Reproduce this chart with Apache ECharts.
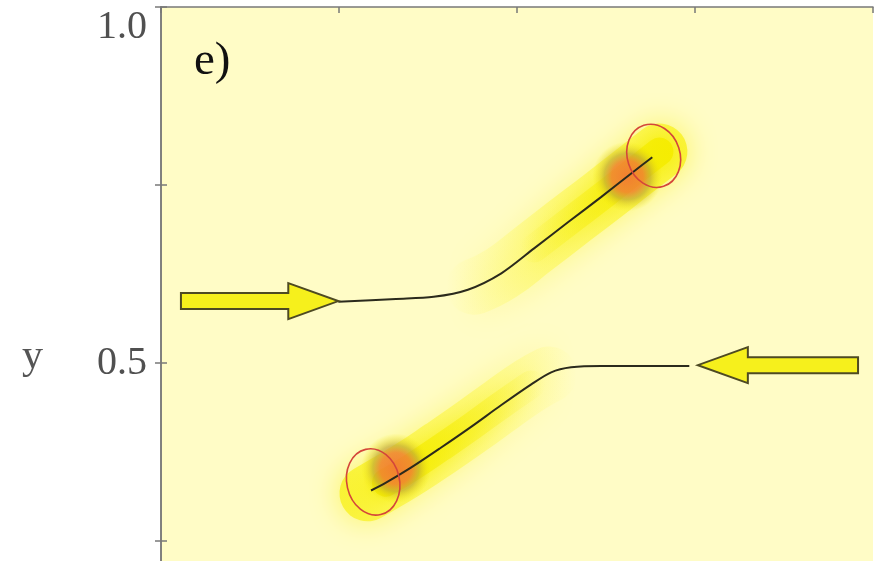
<!DOCTYPE html>
<html>
<head>
<meta charset="utf-8">
<script src="https://cdn.jsdelivr.net/npm/echarts@6/dist/echarts.min.js"></script>
<style>html,body{margin:0;padding:0;background:#fff;}#c{width:879px;height:561px;}</style>
</head>
<body>
<div id="c"></div>
<script>
// ---- data (axis units 0..1) ----
var upperPath = [[0.249,0.586],[0.330,0.590],[0.383,0.593],[0.431,0.603],[0.478,0.626],[0.524,0.661],[0.572,0.698],[0.618,0.733],[0.664,0.769],[0.690,0.789]];
var lowerPath = [[0.742,0.496],[0.674,0.496],[0.618,0.496],[0.576,0.494],[0.548,0.487],[0.520,0.470],[0.478,0.441],[0.435,0.410],[0.393,0.381],[0.351,0.353],[0.316,0.332],[0.295,0.321]];
var upperGlow = [[0.440,0.607],[0.478,0.626],[0.524,0.661],[0.572,0.698],[0.618,0.733],[0.664,0.769],[0.700,0.797]];
var lowerGlow = [[0.545,0.484],[0.520,0.470],[0.478,0.441],[0.435,0.410],[0.393,0.381],[0.351,0.353],[0.316,0.332],[0.290,0.317]];
var blobs = [[0.655,0.762],[0.330,0.352]];
// ellipses: [cx, cy, rx, ry, tilt(deg)]
var ellipses = [[0.692,0.791,0.037,0.045,18],[0.298,0.333,0.037,0.047,13]];
// arrows: [tailX, tailY, tipX, tipY]
var arrows = [[0.028,0.587,0.249,0.587],[0.979,0.497,0.754,0.497]];
var xTicks = [0, 0.25, 0.5, 0.75, 1.0];
var yTicks = [0.25, 0.5, 0.75, 1.0];
var yTickLabelTop = [1.0];
var yTickLabelMid = [0.5];
var yRange = [0.222, 1.0];
var panelLabel = 'e)';
var yName = 'y';

var serif = 'Liberation Serif';
var axisCol = '#787878';

var chart = echarts.init(document.getElementById('c'), null, {renderer: 'canvas'});
function yAx(extra) {
  var base = {
    type: 'value', min: yRange[0], max: yRange[1],
    axisLine: {show: true, lineStyle: {color: axisCol, width: 1.5}},
    axisTick: {show: true, inside: true, length: 6, customValues: yTicks, lineStyle: {color: axisCol, width: 1.5}},
    axisLabel: {show: false},
    splitLine: {show: false}
  };
  return Object.assign(base, extra);
}
function xAx(extra) {
  var base = {
    type: 'value', min: 0, max: 1,
    axisLine: {show: true, lineStyle: {color: axisCol, width: 1.5}},
    axisTick: {show: true, inside: true, length: 6, customValues: xTicks, lineStyle: {color: axisCol, width: 1.5}},
    axisLabel: {show: false},
    splitLine: {show: false}
  };
  return Object.assign(base, extra);
}
function fmt(v) { return v.toFixed(1); }

var option = {
  animation: false,
  backgroundColor: '#ffffff',
  title: [
    {text: panelLabel, left: 194, top: 38, padding: 0, textStyle: {fontFamily: serif, fontSize: 47, fontWeight: 'normal', color: '#111111'}},
    {text: yName, left: 22, top: 336, padding: 0, textStyle: {fontFamily: serif, fontSize: 42, fontWeight: 'normal', color: '#555555'}}
  ],
  grid: {left: 161, top: 7, right: 6, bottom: 0, show: true, backgroundColor: '#fffcc6', borderWidth: 0},
  xAxis: [
    xAx({position: 'bottom', axisLine: {show: false}, axisTick: {show: false}}),
    xAx({position: 'top'})
  ],
  yAxis: [
    yAx({position: 'left', axisLabel: {show: true, margin: 14, customValues: yTickLabelMid, fontFamily: serif, fontSize: 40, color: '#505050', formatter: fmt}}),
    yAx({position: 'right'}),
    yAx({position: 'left', axisLine: {show: false}, axisTick: {show: false},
        axisLabel: {show: true, margin: 14, customValues: yTickLabelTop, verticalAlign: 'top', fontFamily: serif, fontSize: 40, color: '#505050', formatter: fmt}})
  ],
  series: [
    {type: 'line', data: upperGlow, smooth: true, symbol: 'none', z: 1,
     lineStyle: {width: 56, cap: 'round',
       color: new echarts.graphic.LinearGradient(0, 0, 1, 0, [
         {offset: 0, color: 'rgba(255,250,60,0)'}, {offset: 0.4, color: 'rgba(252,246,40,0.35)'}, {offset: 1, color: 'rgba(248,240,20,0.75)'}]),
       shadowBlur: 30, shadowColor: 'rgba(248,240,20,0.8)'}},
    {type: 'line', data: upperGlow.slice(2), smooth: true, symbol: 'none', z: 1,
     lineStyle: {width: 28, cap: 'round',
       color: new echarts.graphic.LinearGradient(0, 0, 1, 0, [
         {offset: 0, color: 'rgba(245,238,0,0)'}, {offset: 1, color: 'rgba(245,236,0,0.95)'}]),
       shadowBlur: 16, shadowColor: 'rgba(245,236,0,0.8)'}},
    {type: 'line', data: lowerGlow, smooth: true, symbol: 'none', z: 1,
     lineStyle: {width: 56, cap: 'round',
       color: new echarts.graphic.LinearGradient(0, 0, 1, 0, [
         {offset: 0, color: 'rgba(248,240,20,0.75)'}, {offset: 0.6, color: 'rgba(252,246,40,0.35)'}, {offset: 1, color: 'rgba(255,250,60,0)'}]),
       shadowBlur: 30, shadowColor: 'rgba(248,240,20,0.8)'}},
    {type: 'line', data: lowerGlow.slice(1, 7), smooth: true, symbol: 'none', z: 1,
     lineStyle: {width: 28, cap: 'round',
       color: new echarts.graphic.LinearGradient(0, 0, 1, 0, [
         {offset: 0, color: 'rgba(245,236,0,0.95)'}, {offset: 1, color: 'rgba(245,238,0,0)'}]),
       shadowBlur: 16, shadowColor: 'rgba(245,236,0,0.8)'}},
    {type: 'scatter', data: blobs, symbolSize: 70, z: 2,
     itemStyle: {color: new echarts.graphic.RadialGradient(0.5, 0.5, 0.5, [
       {offset: 0, color: 'rgba(242,100,58,1)'}, {offset: 0.45, color: 'rgba(238,118,52,0.97)'},
       {offset: 0.66, color: 'rgba(190,165,50,0.8)'}, {offset: 1, color: 'rgba(245,236,0,0)'}])}},
    {type: 'line', data: upperPath, smooth: 0.3, symbol: 'none', z: 3,
     lineStyle: {width: 2, color: '#2b2a1c'}},
    {type: 'line', data: lowerPath, smooth: 0.3, symbol: 'none', z: 3,
     lineStyle: {width: 2, color: '#2b2a1c'}},
    {type: 'custom', data: ellipses, z: 4,
     renderItem: function (params, api) {
       var c = api.coord([api.value(0), api.value(1)]);
       var s = api.size([api.value(2), api.value(3)]);
       return {type: 'ellipse', x: c[0], y: c[1], rotation: api.value(4) * Math.PI / 180,
         shape: {cx: 0, cy: 0, rx: s[0], ry: s[1]},
         style: {fill: null, stroke: '#d4463a', lineWidth: 1.6}};
     }},
    {type: 'custom', data: arrows, z: 5,
     renderItem: function (params, api) {
       var t = api.coord([api.value(0), api.value(1)]);
       var h = api.coord([api.value(2), api.value(3)]);
       var dir = h[0] > t[0] ? 1 : -1;
       var bw = 8, hw = 18, hl = 50;
       var y = (t[1] + h[1]) / 2;
       var bx = h[0] - dir * hl;
       return {type: 'polygon', shape: {points: [
         [t[0], y - bw], [bx, y - bw], [bx, y - hw], [h[0], y], [bx, y + hw], [bx, y + bw], [t[0], y + bw]]},
         style: {fill: '#f6f01c', stroke: '#4e4a22', lineWidth: 2}};
     }}
  ]
};
chart.setOption(option);
</script>
</body>
</html>
